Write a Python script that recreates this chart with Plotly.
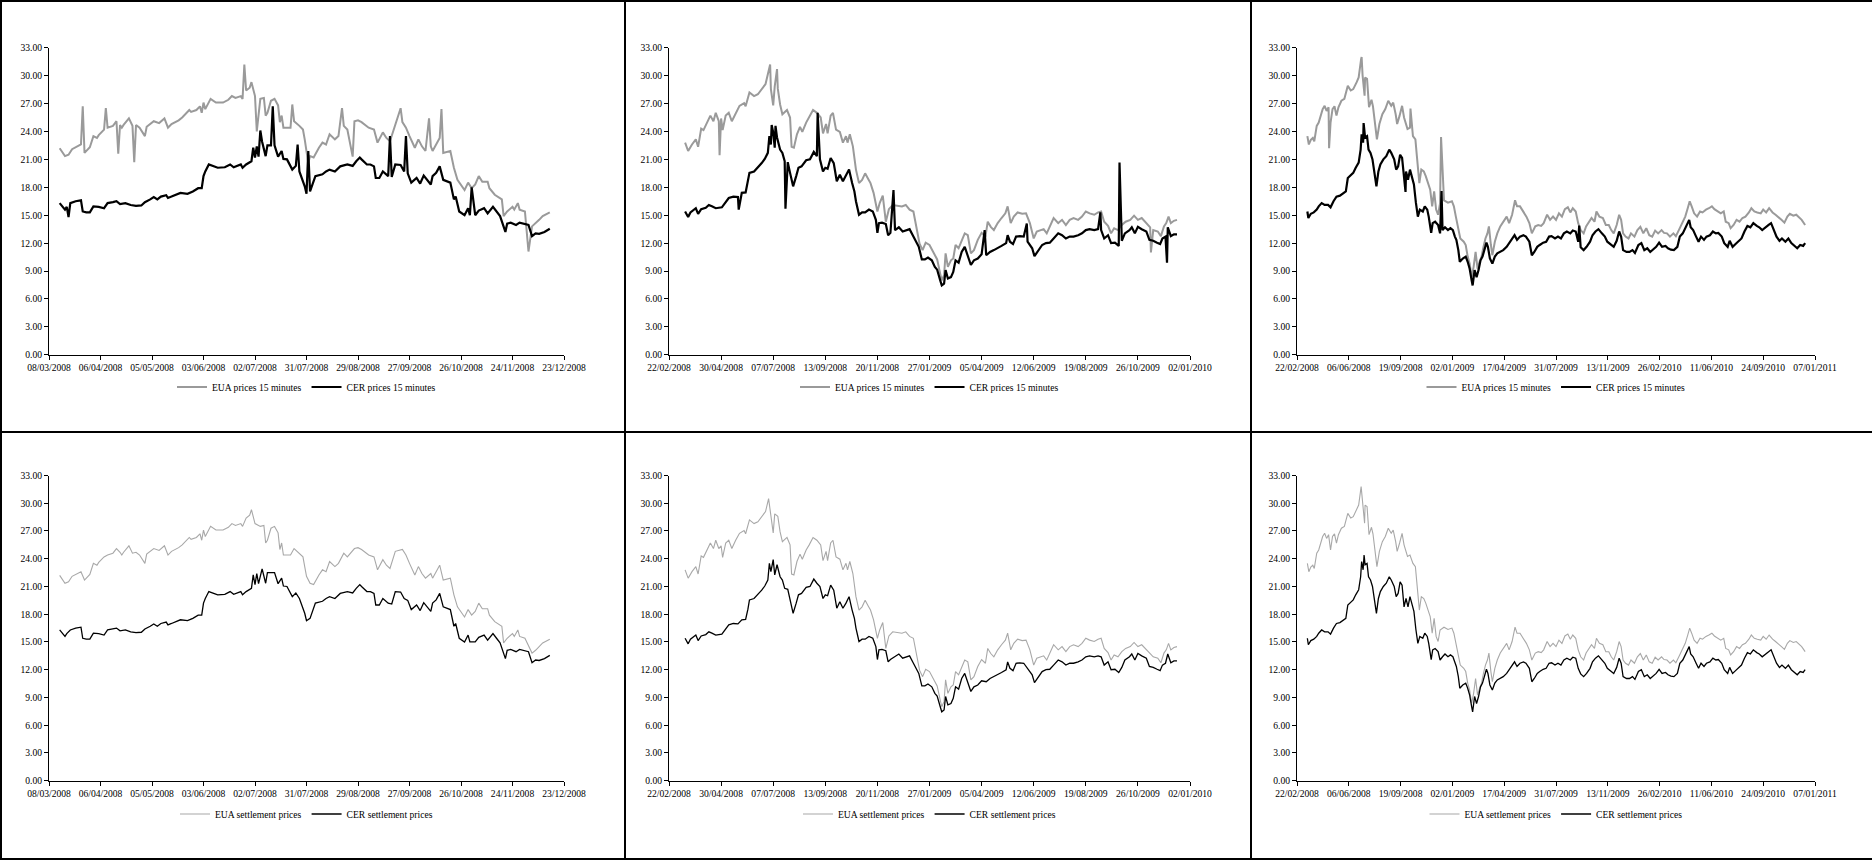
import plotly.graph_objects as go

FONT = "Liberation Serif, Times New Roman, serif"
W, H = 1872, 860

# ---------------- Dec-08 contract ----------------
dec08_eua = [
    ("2008-03-14", 22.2), ("2008-03-17", 21.35), ("2008-03-19", 21.5), ("2008-03-21", 22.1),
    ("2008-03-26", 22.6), ("2008-03-28", 21.7), ("2008-03-31", 22.3), ("2008-04-02", 23.5),
    ("2008-04-04", 23.3), ("2008-04-05", 23.6), ("2008-04-08", 24.2), ("2008-04-10", 24.4),
    ("2008-04-13", 24.6), ("2008-04-15", 25.1), ("2008-04-17", 24.7), ("2008-04-18", 24.4),
    ("2008-04-19", 24.7), ("2008-04-22", 25.4), ("2008-04-24", 24.6), ("2008-04-26", 24.7),
    ("2008-04-28", 24.4), ("2008-05-01", 23.5), ("2008-05-02", 24.5), ("2008-05-06", 25.1),
    ("2008-05-09", 24.9), ("2008-05-12", 25.4), ("2008-05-14", 24.4), ("2008-05-16", 24.8),
    ("2008-05-20", 25.2), ("2008-05-22", 25.5), ("2008-05-26", 26.3), ("2008-05-27", 26.1),
    ("2008-05-30", 26.3), ("2008-06-01", 26.7), ("2008-06-02", 26.0), ("2008-06-03", 27.1),
    ("2008-06-04", 26.4), ("2008-06-07", 27.5), ("2008-06-10", 27.1), ("2008-06-14", 27.1),
    ("2008-06-17", 27.4), ("2008-06-19", 27.8), ("2008-06-21", 27.6), ("2008-06-24", 27.8),
    ("2008-06-25", 27.5), ("2008-06-27", 28.4), ("2008-06-29", 28.7), ("2008-06-30", 29.3),
    ("2008-07-02", 27.8), ("2008-07-05", 27.5), ("2008-07-07", 27.6), ("2008-07-08", 25.7),
    ("2008-07-09", 26.0), ("2008-07-11", 27.3), ("2008-07-13", 27.5), ("2008-07-15", 26.8),
    ("2008-07-16", 25.0), ("2008-07-17", 25.7), ("2008-07-18", 24.4), ("2008-07-22", 24.4),
    ("2008-07-24", 25.1), ("2008-07-27", 24.6), ("2008-07-29", 24.2), ("2008-07-30", 23.15),
    ("2008-07-31", 22.1), ("2008-08-02", 21.35), ("2008-08-04", 21.2), ("2008-08-07", 22.25),
    ("2008-08-09", 22.8), ("2008-08-11", 22.6), ("2008-08-13", 23.7), ("2008-08-16", 23.15),
    ("2008-08-18", 23.5), ("2008-08-21", 24.6), ("2008-08-23", 24.2), ("2008-08-27", 25.1),
    ("2008-08-29", 25.2), ("2008-08-31", 25.0), ("2008-09-04", 24.4), ("2008-09-07", 24.2),
    ("2008-09-09", 22.8), ("2008-09-12", 23.9), ("2008-09-14", 23.3), ("2008-09-16", 22.95),
    ("2008-09-19", 24.8), ("2008-09-23", 25.0), ("2008-09-25", 24.4), ("2008-09-27", 23.5),
    ("2008-09-30", 22.25), ("2008-10-02", 23.15), ("2008-10-04", 22.4), ("2008-10-06", 21.9),
    ("2008-10-09", 22.4), ("2008-10-10", 21.9), ("2008-10-14", 23.3), ("2008-10-16", 21.7),
    ("2008-10-20", 21.9), ("2008-10-22", 20.1), ("2008-10-24", 18.8), ("2008-10-28", 17.7),
    ("2008-10-30", 18.5), ("2008-11-01", 17.9), ("2008-11-03", 18.3), ("2008-11-05", 19.2),
    ("2008-11-07", 18.6), ("2008-11-10", 18.6), ("2008-11-11", 17.9), ("2008-11-14", 17.2),
    ("2008-11-18", 16.7), ("2008-11-19", 14.9), ("2008-11-21", 15.4), ("2008-11-24", 15.9),
    ("2008-11-25", 15.6), ("2008-11-27", 16.3), ("2008-11-28", 15.6), ("2008-12-01", 15.4),
    ("2008-12-05", 13.8), ("2008-12-07", 14.1), ("2008-12-09", 14.5), ("2008-12-11", 14.9),
    ("2008-12-15", 15.3),
]
dec08_cer = [
    ("2008-03-14", 16.3), ("2008-03-17", 15.6), ("2008-03-18", 15.9), ("2008-03-20", 16.3),
    ("2008-03-23", 16.5), ("2008-03-26", 16.6), ("2008-03-27", 15.4), ("2008-03-29", 15.3),
    ("2008-03-31", 15.3), ("2008-04-02", 15.95), ("2008-04-05", 15.9), ("2008-04-08", 15.75),
    ("2008-04-10", 16.3), ("2008-04-13", 16.4), ("2008-04-15", 16.5), ("2008-04-17", 16.2),
    ("2008-04-20", 16.3), ("2008-04-23", 16.1), ("2008-04-26", 16.0), ("2008-04-29", 16.05),
    ("2008-05-01", 16.4), ("2008-05-04", 16.7), ("2008-05-06", 16.95), ("2008-05-08", 16.7),
    ("2008-05-10", 17.0), ("2008-05-13", 17.15), ("2008-05-14", 16.85), ("2008-05-16", 17.0),
    ("2008-05-21", 17.4), ("2008-05-25", 17.3), ("2008-05-28", 17.55), ("2008-05-31", 17.9),
    ("2008-06-02", 17.9), ("2008-06-03", 19.2), ("2008-06-04", 19.7), ("2008-06-06", 20.45),
    ("2008-06-08", 20.3), ("2008-06-11", 20.1), ("2008-06-15", 20.15), ("2008-06-18", 20.45),
    ("2008-06-20", 20.15), ("2008-06-24", 20.45), ("2008-06-25", 20.1), ("2008-06-27", 20.45),
    ("2008-06-30", 20.8), ("2008-07-01", 22.25), ("2008-07-02", 21.2), ("2008-07-03", 22.4),
    ("2008-07-04", 21.3), ("2008-07-06", 22.9), ("2008-07-08", 21.35), ("2008-07-09", 22.5),
    ("2008-07-11", 22.5), ("2008-07-13", 22.5), ("2008-07-15", 21.3), ("2008-07-17", 21.9),
    ("2008-07-18", 21.05), ("2008-07-20", 21.0), ("2008-07-23", 19.9), ("2008-07-25", 20.3),
    ("2008-07-27", 19.7), ("2008-07-30", 18.1), ("2008-07-31", 17.3), ("2008-08-02", 17.55),
    ("2008-08-05", 19.2), ("2008-08-09", 19.4), ("2008-08-11", 19.7), ("2008-08-13", 19.9),
    ("2008-08-16", 19.7), ("2008-08-19", 20.25), ("2008-08-23", 20.45), ("2008-08-26", 20.3),
    ("2008-08-28", 20.8), ("2008-08-30", 21.2), ("2008-08-31", 21.0), ("2008-09-03", 20.45),
    ("2008-09-05", 20.45), ("2008-09-07", 20.25), ("2008-09-08", 19.0), ("2008-09-10", 19.0),
    ("2008-09-12", 19.7), ("2008-09-15", 19.2), ("2008-09-17", 19.1), ("2008-09-19", 20.45),
    ("2008-09-22", 20.4), ("2008-09-24", 19.7), ("2008-09-26", 19.5), ("2008-09-28", 18.5),
    ("2008-10-01", 19.0), ("2008-10-03", 18.4), ("2008-10-05", 19.25), ("2008-10-09", 18.3),
    ("2008-10-10", 19.2), ("2008-10-12", 19.55), ("2008-10-14", 20.25), ("2008-10-16", 18.8),
    ("2008-10-20", 18.5), ("2008-10-22", 16.7), ("2008-10-23", 17.0), ("2008-10-25", 15.4),
    ("2008-10-28", 15.0), ("2008-10-30", 15.75), ("2008-10-31", 15.0), ("2008-11-03", 15.0),
    ("2008-11-05", 15.5), ("2008-11-08", 15.75), ("2008-11-10", 15.2), ("2008-11-13", 15.9),
    ("2008-11-15", 15.4), ("2008-11-17", 14.9), ("2008-11-20", 13.2), ("2008-11-21", 14.1),
    ("2008-11-23", 14.2), ("2008-11-26", 13.95), ("2008-11-28", 14.2), ("2008-11-30", 14.1),
    ("2008-12-03", 13.95), ("2008-12-05", 12.75), ("2008-12-07", 13.05), ("2008-12-09", 13.0),
    ("2008-12-12", 13.2), ("2008-12-15", 13.55),
]
dec08_eua_spikes = [
    ("2008-03-27", 26.7), ("2008-04-09", 26.5), ("2008-04-16", 21.6), ("2008-04-25", 20.7),
    ("2008-06-26", 31.2), ("2008-07-03", 24.0), ("2008-07-23", 26.9), ("2008-08-01", 20.6),
    ("2008-08-20", 26.5), ("2008-08-26", 21.3), ("2008-09-22", 26.5), ("2008-10-08", 25.4),
    ("2008-10-15", 26.4), ("2008-12-03", 11.1),
]
dec08_cer_spikes = [
    ("2008-03-19", 14.8), ("2008-07-05", 24.1), ("2008-07-12", 26.7), ("2008-07-26", 22.6),
    ("2008-08-01", 21.9), ("2008-09-16", 23.5), ("2008-09-25", 23.5), ("2008-11-01", 18.0),
]

# ---------------- Dec-09 contract ----------------
dec09_eua = [
    ("2008-03-14", 22.8), ("2008-03-18", 21.9), ("2008-03-23", 22.6), ("2008-03-28", 23.15),
    ("2008-03-31", 22.35), ("2008-04-04", 24.3), ("2008-04-07", 24.15), ("2008-04-13", 25.1),
    ("2008-04-16", 25.7), ("2008-04-20", 25.1), ("2008-04-23", 26.0), ("2008-04-27", 25.1),
    ("2008-04-30", 25.4), ("2008-05-02", 24.15), ("2008-05-06", 25.7), ("2008-05-10", 26.0),
    ("2008-05-14", 25.1), ("2008-05-19", 26.0), ("2008-05-24", 26.75), ("2008-05-30", 27.05),
    ("2008-06-01", 26.7), ("2008-06-06", 28.2), ("2008-06-12", 27.8), ("2008-06-17", 28.0),
    ("2008-06-22", 28.5), ("2008-06-27", 29.1), ("2008-07-01", 30.5), ("2008-07-04", 28.55),
    ("2008-07-07", 26.8), ("2008-07-09", 28.85), ("2008-07-13", 28.6), ("2008-07-16", 26.9),
    ("2008-07-19", 25.85), ("2008-07-25", 26.3), ("2008-07-29", 25.5), ("2008-07-31", 22.35),
    ("2008-08-03", 22.25), ("2008-08-07", 23.7), ("2008-08-11", 24.5), ("2008-08-14", 23.95),
    ("2008-08-19", 24.95), ("2008-08-23", 25.5), ("2008-08-28", 26.3), ("2008-09-02", 26.0),
    ("2008-09-07", 25.5), ("2008-09-10", 23.8), ("2008-09-14", 24.8), ("2008-09-16", 23.8),
    ("2008-09-20", 25.7), ("2008-09-23", 26.0), ("2008-09-27", 24.2), ("2008-10-02", 23.95),
    ("2008-10-06", 22.8), ("2008-10-10", 23.5), ("2008-10-12", 22.8), ("2008-10-15", 23.7),
    ("2008-10-19", 22.4), ("2008-10-23", 19.9), ("2008-10-27", 18.45), ("2008-10-31", 18.8),
    ("2008-11-04", 19.5), ("2008-11-08", 18.9), ("2008-11-11", 18.45), ("2008-11-15", 17.4),
    ("2008-11-20", 15.4), ("2008-11-23", 16.3), ("2008-11-27", 17.1), ("2008-12-01", 14.3),
    ("2008-12-05", 15.65), ("2008-12-10", 16.1), ("2008-12-17", 16.0), ("2008-12-22", 15.95),
    ("2008-12-27", 16.1), ("2009-01-01", 15.6), ("2009-01-06", 15.4), ("2009-01-09", 13.95),
    ("2009-01-14", 11.95), ("2009-01-18", 11.25), ("2009-01-22", 12.05), ("2009-01-27", 11.8),
    ("2009-02-02", 10.8), ("2009-02-06", 10.25), ("2009-02-10", 8.7), ("2009-02-12", 8.0),
    ("2009-02-15", 8.55), ("2009-02-17", 10.9), ("2009-02-20", 9.45), ("2009-02-24", 10.15),
    ("2009-02-27", 10.35), ("2009-03-02", 11.8), ("2009-03-06", 11.45), ("2009-03-10", 12.25),
    ("2009-03-14", 13.05), ("2009-03-18", 12.85), ("2009-03-22", 10.9), ("2009-03-26", 11.25),
    ("2009-03-31", 12.35), ("2009-04-05", 13.1), ("2009-04-10", 12.7), ("2009-04-13", 14.3),
    ("2009-04-17", 13.75), ("2009-04-21", 13.4), ("2009-04-26", 14.15), ("2009-05-01", 14.7),
    ("2009-05-06", 15.2), ("2009-05-09", 15.95), ("2009-05-13", 14.15), ("2009-05-17", 14.85),
    ("2009-05-22", 15.3), ("2009-05-28", 15.15), ("2009-06-02", 15.2), ("2009-06-07", 14.15),
    ("2009-06-12", 12.5), ("2009-06-16", 13.25), ("2009-06-20", 13.4), ("2009-06-25", 13.5),
    ("2009-06-29", 13.05), ("2009-07-03", 13.85), ("2009-07-08", 14.7), ("2009-07-14", 14.15),
    ("2009-07-19", 14.5), ("2009-07-24", 13.95), ("2009-07-29", 14.5), ("2009-08-03", 14.7),
    ("2009-08-09", 14.5), ("2009-08-14", 14.85), ("2009-08-19", 15.4), ("2009-08-24", 15.2),
    ("2009-08-30", 15.05), ("2009-09-04", 15.3), ("2009-09-08", 15.4), ("2009-09-12", 14.3),
    ("2009-09-17", 13.85), ("2009-09-21", 13.05), ("2009-09-25", 13.6), ("2009-09-30", 13.4),
    ("2009-10-05", 13.95), ("2009-10-10", 14.3), ("2009-10-16", 14.5), ("2009-10-21", 14.95),
    ("2009-10-26", 14.5), ("2009-10-31", 14.7), ("2009-11-06", 14.15), ("2009-11-11", 13.7),
    ("2009-11-15", 13.4), ("2009-11-21", 13.25), ("2009-11-25", 12.75), ("2009-11-29", 13.8),
    ("2009-12-02", 14.15), ("2009-12-05", 14.85), ("2009-12-08", 14.15), ("2009-12-12", 14.4),
    ("2009-12-16", 14.5),
]
dec09_cer = [
    ("2008-03-14", 15.4), ("2008-03-18", 14.8), ("2008-03-21", 15.3), ("2008-03-25", 15.6),
    ("2008-03-28", 15.75), ("2008-03-31", 15.15), ("2008-04-04", 15.65), ("2008-04-10", 15.8),
    ("2008-04-14", 16.1), ("2008-04-18", 15.95), ("2008-04-23", 15.75), ("2008-05-01", 15.85),
    ("2008-05-06", 16.35), ("2008-05-10", 16.85), ("2008-05-16", 17.0), ("2008-05-22", 16.95),
    ("2008-05-27", 17.4), ("2008-06-01", 17.45), ("2008-06-04", 18.55), ("2008-06-06", 19.55),
    ("2008-06-12", 19.7), ("2008-06-17", 20.1), ("2008-06-22", 20.6), ("2008-06-26", 21.05),
    ("2008-06-30", 21.7), ("2008-07-02", 23.5), ("2008-07-04", 22.6), ("2008-07-07", 23.9),
    ("2008-07-09", 22.25), ("2008-07-12", 23.35), ("2008-07-16", 22.05), ("2008-07-19", 21.7),
    ("2008-07-22", 20.8), ("2008-07-26", 20.7), ("2008-07-29", 19.55), ("2008-08-02", 18.1),
    ("2008-08-06", 19.2), ("2008-08-09", 20.1), ("2008-08-13", 20.25), ("2008-08-19", 20.9),
    ("2008-08-24", 21.0), ("2008-08-29", 21.8), ("2008-09-02", 21.35), ("2008-09-06", 21.0),
    ("2008-09-10", 19.7), ("2008-09-13", 20.1), ("2008-09-16", 20.0), ("2008-09-20", 21.15),
    ("2008-09-24", 20.6), ("2008-09-28", 18.65), ("2008-10-02", 19.35), ("2008-10-06", 18.65),
    ("2008-10-10", 19.2), ("2008-10-14", 19.9), ("2008-10-18", 18.45), ("2008-10-21", 17.55),
    ("2008-10-23", 16.5), ("2008-10-27", 15.05), ("2008-10-31", 15.3), ("2008-11-04", 15.3),
    ("2008-11-09", 15.6), ("2008-11-14", 15.4), ("2008-11-18", 14.5), ("2008-11-20", 13.1),
    ("2008-11-22", 14.15), ("2008-11-26", 14.2), ("2008-12-01", 14.05), ("2008-12-04", 12.85),
    ("2008-12-07", 13.1), ("2008-12-13", 13.4), ("2008-12-18", 13.7), ("2008-12-23", 13.25),
    ("2008-12-28", 13.35), ("2009-01-01", 13.5), ("2009-01-06", 12.7), ("2009-01-09", 12.25),
    ("2009-01-13", 11.6), ("2009-01-17", 10.25), ("2009-01-21", 10.25), ("2009-01-25", 10.45),
    ("2009-01-30", 10.15), ("2009-02-03", 9.45), ("2009-02-06", 9.15), ("2009-02-10", 8.0),
    ("2009-02-12", 7.45), ("2009-02-15", 7.65), ("2009-02-17", 9.1), ("2009-02-20", 8.2),
    ("2009-02-24", 8.35), ("2009-02-27", 8.9), ("2009-03-02", 10.15), ("2009-03-06", 9.9),
    ("2009-03-10", 11.05), ("2009-03-14", 11.6), ("2009-03-18", 10.55), ("2009-03-22", 9.65),
    ("2009-03-26", 10.15), ("2009-03-31", 10.35), ("2009-04-05", 10.8), ("2009-04-11", 10.7),
    ("2009-04-16", 11.05), ("2009-04-21", 11.25), ("2009-04-26", 11.45), ("2009-05-01", 11.7),
    ("2009-05-07", 12.0), ("2009-05-09", 12.85), ("2009-05-12", 12.15), ("2009-05-16", 11.9),
    ("2009-05-20", 12.7), ("2009-05-25", 12.75), ("2009-05-30", 12.7), ("2009-06-04", 12.15),
    ("2009-06-10", 11.45), ("2009-06-13", 10.6), ("2009-06-18", 11.25), ("2009-06-23", 11.8),
    ("2009-06-28", 12.0), ("2009-07-03", 12.05), ("2009-07-08", 12.5), ("2009-07-14", 13.05),
    ("2009-07-19", 12.85), ("2009-07-24", 12.5), ("2009-07-29", 12.7), ("2009-08-03", 12.7),
    ("2009-08-09", 12.85), ("2009-08-14", 13.05), ("2009-08-19", 13.4), ("2009-08-24", 13.5),
    ("2009-08-30", 13.4), ("2009-09-04", 13.5), ("2009-09-08", 13.4), ("2009-09-12", 12.5),
    ("2009-09-17", 12.85), ("2009-09-21", 12.0), ("2009-09-26", 12.05), ("2009-10-01", 11.7),
    ("2009-10-05", 12.25), ("2009-10-09", 13.05), ("2009-10-15", 13.4), ("2009-10-18", 13.7),
    ("2009-10-22", 13.05), ("2009-10-26", 13.75), ("2009-10-31", 13.5), ("2009-11-06", 13.25),
    ("2009-11-10", 12.35), ("2009-11-15", 12.25), ("2009-11-20", 12.05), ("2009-11-24", 11.9),
    ("2009-11-27", 12.5), ("2009-12-01", 12.7), ("2009-12-04", 13.7), ("2009-12-08", 12.75),
    ("2009-12-12", 12.95), ("2009-12-16", 12.95),
]
dec09_eua_spikes = [
    ("2008-04-28", 21.45), ("2008-07-03", 31.2), ("2008-07-12", 30.7), ("2009-11-12", 11.0),
]
dec09_cer_spikes = [
    ("2008-05-23", 15.6), ("2008-07-05", 24.7), ("2008-07-10", 24.6), ("2008-07-23", 15.7),
    ("2008-09-03", 26.0), ("2008-12-11", 17.7), ("2009-04-09", 13.4), ("2009-06-03", 14.1),
    ("2009-09-07", 15.3), ("2009-10-02", 20.65), ("2009-12-03", 9.9),
]

# ---------------- Dec-10 contract ----------------
dec10_eua = [
    ("2008-03-14", 23.5), ("2008-03-17", 22.6), ("2008-03-21", 23.1), ("2008-03-25", 23.3),
    ("2008-03-28", 22.95), ("2008-04-02", 24.6), ("2008-04-06", 24.95), ("2008-04-10", 25.7),
    ("2008-04-14", 26.4), ("2008-04-18", 26.75), ("2008-04-22", 26.2), ("2008-04-26", 26.6),
    ("2008-04-30", 24.95), ("2008-05-04", 26.4), ("2008-05-08", 26.7), ("2008-05-12", 25.7),
    ("2008-05-16", 26.6), ("2008-05-22", 27.3), ("2008-05-28", 27.5), ("2008-06-04", 28.9),
    ("2008-06-10", 28.4), ("2008-06-15", 28.55), ("2008-06-22", 29.3), ("2008-06-26", 29.8),
    ("2008-07-01", 31.8), ("2008-07-04", 30.0), ("2008-07-08", 27.85), ("2008-07-09", 29.8),
    ("2008-07-13", 29.65), ("2008-07-17", 26.6), ("2008-07-22", 27.4), ("2008-07-25", 26.7),
    ("2008-07-30", 24.6), ("2008-08-02", 23.15), ("2008-08-07", 24.8), ("2008-08-13", 25.85),
    ("2008-08-19", 26.4), ("2008-08-25", 27.3), ("2008-08-31", 26.75), ("2008-09-04", 27.1),
    ("2008-09-09", 25.85), ("2008-09-12", 24.8), ("2008-09-17", 25.7), ("2008-09-22", 26.75),
    ("2008-09-26", 25.5), ("2008-10-03", 24.25), ("2008-10-08", 24.4), ("2008-10-14", 23.5),
    ("2008-10-19", 23.15), ("2008-10-22", 21.35), ("2008-10-27", 18.45), ("2008-10-31", 19.9),
    ("2008-11-05", 19.7), ("2008-11-09", 19.2), ("2008-11-13", 18.65), ("2008-11-18", 17.75),
    ("2008-11-22", 15.95), ("2008-11-26", 17.55), ("2008-11-30", 15.6), ("2008-12-04", 15.05),
    ("2008-12-08", 16.3), ("2008-12-16", 16.6), ("2008-12-24", 16.35), ("2009-01-01", 16.5),
    ("2009-01-05", 15.95), ("2009-01-09", 14.85), ("2009-01-13", 13.95), ("2009-01-18", 12.5),
    ("2009-01-25", 12.15), ("2009-01-29", 11.8), ("2009-02-02", 10.55), ("2009-02-06", 9.8),
    ("2009-02-10", 8.35), ("2009-02-14", 9.45), ("2009-02-18", 11.05), ("2009-02-22", 9.25),
    ("2009-02-26", 10.0), ("2009-03-02", 10.55), ("2009-03-06", 11.6), ("2009-03-10", 12.5),
    ("2009-03-14", 13.05), ("2009-03-17", 13.8), ("2009-03-21", 11.8), ("2009-03-24", 10.7),
    ("2009-03-29", 12.15), ("2009-04-03", 13.05), ("2009-04-09", 13.8), ("2009-04-15", 14.3),
    ("2009-04-22", 14.85), ("2009-04-27", 14.15), ("2009-05-03", 15.05), ("2009-05-09", 16.6),
    ("2009-05-13", 15.95), ("2009-05-19", 15.95), ("2009-05-26", 15.4), ("2009-06-01", 14.85),
    ("2009-06-07", 14.15), ("2009-06-12", 13.05), ("2009-06-19", 13.8), ("2009-06-25", 13.95),
    ("2009-07-01", 13.85), ("2009-07-06", 14.15), ("2009-07-13", 15.05), ("2009-07-19", 14.5),
    ("2009-07-25", 14.85), ("2009-07-31", 14.5), ("2009-08-06", 15.2), ("2009-08-12", 14.85),
    ("2009-08-18", 15.65), ("2009-08-24", 15.85), ("2009-08-29", 15.3), ("2009-09-03", 15.75),
    ("2009-09-09", 15.4), ("2009-09-14", 14.15), ("2009-09-19", 13.4), ("2009-09-25", 13.05),
    ("2009-09-30", 13.8), ("2009-10-05", 14.15), ("2009-10-11", 14.7), ("2009-10-17", 14.3),
    ("2009-10-21", 15.4), ("2009-10-27", 14.85), ("2009-11-03", 14.7), ("2009-11-09", 13.95),
    ("2009-11-15", 13.95), ("2009-11-20", 13.4), ("2009-11-25", 13.05), ("2009-12-01", 13.95),
    ("2009-12-06", 15.05), ("2009-12-10", 14.5), ("2009-12-14", 13.05), ("2009-12-19", 12.7),
    ("2009-12-25", 12.5), ("2009-12-30", 13.05), ("2010-01-06", 12.7), ("2010-01-12", 13.4),
    ("2010-01-18", 13.75), ("2010-01-24", 13.05), ("2010-01-30", 13.6), ("2010-02-05", 12.85),
    ("2010-02-11", 12.7), ("2010-02-17", 13.35), ("2010-02-23", 13.05), ("2010-03-02", 13.4),
    ("2010-03-07", 13.1), ("2010-03-13", 13.05), ("2010-03-19", 12.7), ("2010-03-26", 13.05),
    ("2010-03-31", 12.75), ("2010-04-06", 13.4), ("2010-04-12", 14.15), ("2010-04-19", 14.85),
    ("2010-04-24", 15.75), ("2010-04-28", 16.5), ("2010-05-02", 15.95), ("2010-05-07", 15.2),
    ("2010-05-13", 14.85), ("2010-05-19", 15.4), ("2010-05-24", 15.3), ("2010-05-31", 15.6),
    ("2010-06-06", 15.75), ("2010-06-12", 15.95), ("2010-06-17", 15.65), ("2010-06-24", 15.4),
    ("2010-06-30", 15.2), ("2010-07-06", 15.4), ("2010-07-10", 14.3), ("2010-07-16", 14.15),
    ("2010-07-20", 13.6), ("2010-07-26", 13.95), ("2010-08-01", 14.5), ("2010-08-07", 14.3),
    ("2010-08-13", 14.7), ("2010-08-19", 14.85), ("2010-08-26", 15.3), ("2010-08-31", 15.75),
    ("2010-09-06", 15.4), ("2010-09-12", 15.3), ("2010-09-19", 15.2), ("2010-09-24", 15.6),
    ("2010-09-30", 15.3), ("2010-10-06", 15.75), ("2010-10-13", 15.3), ("2010-10-19", 15.05),
    ("2010-10-24", 14.85), ("2010-10-31", 14.5), ("2010-11-06", 14.2), ("2010-11-12", 14.85),
    ("2010-11-17", 15.15), ("2010-11-24", 14.95), ("2010-11-30", 15.05), ("2010-12-06", 14.7),
    ("2010-12-11", 14.5), ("2010-12-18", 13.95),
]
dec10_cer = [
    ("2008-03-14", 15.4), ("2008-03-16", 14.7), ("2008-03-21", 15.15), ("2008-03-27", 15.3),
    ("2008-04-02", 15.6), ("2008-04-06", 15.95), ("2008-04-12", 16.3), ("2008-04-18", 16.1),
    ("2008-04-25", 16.1), ("2008-04-30", 15.85), ("2008-05-06", 16.5), ("2008-05-12", 17.0),
    ("2008-05-19", 17.1), ("2008-05-25", 17.3), ("2008-05-31", 17.55), ("2008-06-04", 19.0),
    ("2008-06-10", 19.35), ("2008-06-15", 19.55), ("2008-06-20", 20.1), ("2008-06-26", 20.65),
    ("2008-06-30", 22.05), ("2008-07-02", 23.7), ("2008-07-05", 22.8), ("2008-07-07", 24.4),
    ("2008-07-09", 23.35), ("2008-07-13", 23.5), ("2008-07-16", 22.05), ("2008-07-20", 21.7),
    ("2008-07-24", 21.0), ("2008-07-28", 19.55), ("2008-08-01", 18.1), ("2008-08-05", 19.7),
    ("2008-08-09", 20.45), ("2008-08-15", 21.0), ("2008-08-21", 21.35), ("2008-08-27", 22.05),
    ("2008-08-31", 21.7), ("2008-09-06", 21.0), ("2008-09-10", 19.9), ("2008-09-14", 20.25),
    ("2008-09-18", 21.5), ("2008-09-22", 21.15), ("2008-09-26", 18.8), ("2008-09-30", 19.7),
    ("2008-10-04", 18.8), ("2008-10-08", 19.9), ("2008-10-12", 19.2), ("2008-10-16", 18.3),
    ("2008-10-20", 16.35), ("2008-10-24", 14.85), ("2008-10-28", 15.6), ("2008-11-03", 15.4),
    ("2008-11-07", 15.95), ("2008-11-12", 15.6), ("2008-11-15", 14.85), ("2008-11-20", 13.1),
    ("2008-11-23", 14.15), ("2008-11-28", 14.3), ("2008-12-04", 13.95), ("2008-12-08", 13.05),
    ("2008-12-13", 13.4), ("2008-12-18", 13.7), ("2008-12-24", 13.4), ("2008-12-29", 13.6),
    ("2009-01-03", 13.4), ("2009-01-07", 12.7), ("2009-01-10", 12.35), ("2009-01-14", 11.25),
    ("2009-01-17", 10.0), ("2009-01-23", 10.35), ("2009-01-29", 10.55), ("2009-02-02", 10.0),
    ("2009-02-06", 9.25), ("2009-02-10", 8.0), ("2009-02-12", 7.45), ("2009-02-16", 9.1),
    ("2009-02-20", 8.35), ("2009-02-24", 9.1), ("2009-02-28", 10.15), ("2009-03-04", 10.55),
    ("2009-03-08", 11.45), ("2009-03-12", 12.05), ("2009-03-15", 11.6), ("2009-03-19", 10.35),
    ("2009-03-24", 9.8), ("2009-03-29", 10.55), ("2009-04-03", 10.9), ("2009-04-09", 11.05),
    ("2009-04-15", 11.25), ("2009-04-22", 11.6), ("2009-04-27", 12.0), ("2009-05-03", 12.35),
    ("2009-05-08", 12.85), ("2009-05-13", 12.35), ("2009-05-19", 12.7), ("2009-05-26", 12.85),
    ("2009-05-31", 12.7), ("2009-06-07", 12.15), ("2009-06-12", 10.7), ("2009-06-17", 11.05),
    ("2009-06-23", 11.6), ("2009-06-28", 11.8), ("2009-07-05", 12.05), ("2009-07-11", 12.15),
    ("2009-07-17", 12.7), ("2009-07-22", 12.75), ("2009-07-29", 12.5), ("2009-08-04", 12.7),
    ("2009-08-10", 12.5), ("2009-08-16", 13.05), ("2009-08-22", 13.25), ("2009-08-29", 13.05),
    ("2009-09-03", 13.35), ("2009-09-09", 13.25), ("2009-09-14", 12.15), ("2009-09-19", 11.55),
    ("2009-09-25", 11.25), ("2009-10-01", 11.6), ("2009-10-08", 12.15), ("2009-10-13", 12.85),
    ("2009-10-19", 13.25), ("2009-10-25", 13.5), ("2009-11-01", 13.05), ("2009-11-07", 12.7),
    ("2009-11-12", 12.15), ("2009-11-19", 11.8), ("2009-11-25", 11.6), ("2009-12-01", 12.25),
    ("2009-12-06", 13.25), ("2009-12-10", 12.7), ("2009-12-14", 11.25), ("2009-12-21", 11.05),
    ("2009-12-27", 11.05), ("2010-01-02", 11.25), ("2010-01-07", 10.95), ("2010-01-14", 11.8),
    ("2010-01-20", 12.0), ("2010-01-26", 11.25), ("2010-02-01", 11.45), ("2010-02-07", 11.05),
    ("2010-02-13", 11.3), ("2010-02-19", 11.6), ("2010-02-25", 12.05), ("2010-03-03", 11.6),
    ("2010-03-10", 11.7), ("2010-03-15", 11.45), ("2010-03-21", 11.3), ("2010-03-27", 11.25),
    ("2010-04-03", 11.6), ("2010-04-08", 12.7), ("2010-04-14", 13.05), ("2010-04-20", 13.75),
    ("2010-04-27", 14.5), ("2010-04-30", 13.7), ("2010-05-05", 13.4), ("2010-05-11", 12.7),
    ("2010-05-16", 12.15), ("2010-05-21", 12.7), ("2010-05-27", 12.35), ("2010-06-01", 12.7),
    ("2010-06-08", 12.85), ("2010-06-14", 13.25), ("2010-06-20", 13.05), ("2010-06-25", 13.1),
    ("2010-07-02", 12.7), ("2010-07-07", 12.0), ("2010-07-14", 11.6), ("2010-07-18", 12.25),
    ("2010-07-24", 11.6), ("2010-07-30", 11.9), ("2010-08-05", 12.25), ("2010-08-11", 12.5),
    ("2010-08-17", 13.25), ("2010-08-23", 13.85), ("2010-08-29", 13.7), ("2010-09-04", 14.15),
    ("2010-09-11", 13.85), ("2010-09-16", 13.7), ("2010-09-22", 13.4), ("2010-09-28", 13.7),
    ("2010-10-05", 13.95), ("2010-10-10", 14.15), ("2010-10-16", 13.4), ("2010-10-21", 12.7),
    ("2010-10-27", 12.25), ("2010-11-01", 12.5), ("2010-11-08", 12.15), ("2010-11-14", 12.5),
    ("2010-11-20", 12.0), ("2010-11-25", 11.8), ("2010-12-02", 11.45), ("2010-12-08", 11.8),
    ("2010-12-14", 11.7), ("2010-12-18", 12.0),
]
dec10_eua_spikes = [
    ("2008-04-27", 22.2), ("2008-07-02", 32.0), ("2008-10-09", 26.45), ("2008-12-10", 23.4),
]
dec10_cer_spikes = [
    ("2008-07-06", 24.9), ("2008-09-29", 17.5), ("2008-12-11", 17.6), ("2009-09-16", 13.9),
]

# ---------------- axis labels ----------------
x_ticks_dec08 = ["08/03/2008", "06/04/2008", "05/05/2008", "03/06/2008", "02/07/2008", "31/07/2008",
                 "29/08/2008", "27/09/2008", "26/10/2008", "24/11/2008", "23/12/2008"]
x_ticks_dec09 = ["22/02/2008", "30/04/2008", "07/07/2008", "13/09/2008", "20/11/2008", "27/01/2009",
                 "05/04/2009", "12/06/2009", "19/08/2009", "26/10/2009", "02/01/2010"]
x_ticks_dec10 = ["22/02/2008", "06/06/2008", "19/09/2008", "02/01/2009", "17/04/2009", "31/07/2009",
                 "13/11/2009", "26/02/2010", "11/06/2010", "24/09/2010", "07/01/2011"]
y_ticks = ["0.00", "3.00", "6.00", "9.00", "12.00", "15.00", "18.00", "21.00", "24.00", "27.00",
           "30.00", "33.00"]

label_15 = ("EUA prices 15 minutes", "CER prices 15 minutes")
label_settle = ("EUA settlement prices", "CER settlement prices")


def iso(d):
    return f"{d[6:]}-{d[3:5]}-{d[:2]}"


def merged(base, spikes):
    pts = sorted(base + spikes, key=lambda p: p[0])
    return [p[0] for p in pts], [p[1] for p in pts]


def split(series):
    return [p[0] for p in series], [p[1] for p in series]


# panel layout in pixels: plot-area left/right per column, top/bottom per row
col_px = [(49, 564), (669, 1190), (1297, 1815)]
row_px = [(47.7, 354.8), (475.5, 780.7)]
legend_y_px = [387, 814]

contracts = [
    (dec08_eua, dec08_cer, dec08_eua_spikes, dec08_cer_spikes, x_ticks_dec08),
    (dec09_eua, dec09_cer, dec09_eua_spikes, dec09_cer_spikes, x_ticks_dec09),
    (dec10_eua, dec10_cer, dec10_eua_spikes, dec10_cer_spikes, x_ticks_dec10),
]

fig = go.Figure()
layout = {}
n = 0
for r in range(2):
    for c in range(3):
        n += 1
        sfx = "" if n == 1 else str(n)
        eua, cer, eua_sp, cer_sp, xt = contracts[c]
        leg = "legend" + sfx
        if r == 0:
            ex, ey = merged(eua, eua_sp)
            cx, cy = merged(cer, cer_sp)
            names = label_15
            eua_style = dict(color="#9a9a9a", width=2.0)
            cer_style = dict(color="#000000", width=2.2)
        else:
            ex, ey = split(eua)
            cx, cy = split(cer)
            names = label_settle
            eua_style = dict(color="#a8a8a8", width=1.1)
            cer_style = dict(color="#000000", width=1.3)
        fig.add_trace(go.Scatter(x=ex, y=ey, mode="lines", name=names[0], line=eua_style,
                                 xaxis="x" + sfx, yaxis="y" + sfx, legend=leg, hoverinfo="skip"))
        fig.add_trace(go.Scatter(x=cx, y=cy, mode="lines", name=names[1], line=cer_style,
                                 xaxis="x" + sfx, yaxis="y" + sfx, legend=leg, hoverinfo="skip"))

        x0, x1 = col_px[c]
        t, b = row_px[r]
        tickvals = [iso(d) for d in xt]
        layout["xaxis" + sfx] = dict(
            domain=[x0 / W, x1 / W], anchor="y" + sfx, type="date", automargin=False,
            range=[tickvals[0], tickvals[-1]], tickmode="array", tickvals=tickvals, ticktext=xt,
            showline=True, linecolor="black", linewidth=1, ticks="outside", ticklen=4,
            tickcolor="black", tickwidth=1, showgrid=False, zeroline=False, tickangle=0,
            tickfont=dict(family=FONT, size=9.6, color="black"))
        layout["yaxis" + sfx] = dict(
            domain=[1 - b / H, 1 - t / H], anchor="x" + sfx, range=[0, 33], automargin=False,
            tickmode="array", tickvals=[float(v) for v in y_ticks], ticktext=y_ticks,
            showline=True, linecolor="black", linewidth=1, ticks="outside", ticklen=4,
            tickcolor="black", tickwidth=1, showgrid=False, zeroline=False,
            tickfont=dict(family=FONT, size=9.6, color="black"))
        layout[leg] = dict(
            orientation="h", x=(x0 + x1) / 2 / W, xanchor="center",
            y=1 - legend_y_px[r] / H, yanchor="middle", bgcolor="rgba(0,0,0,0)",
            font=dict(family=FONT, size=9.6, color="black"), itemwidth=30,
            tracegroupgap=0)


# panel frame lines (black rules between the six charts)
def rule(x0, x1, y0, y1):
    return dict(type="rect", xref="paper", yref="paper", x0=x0 / W, x1=x1 / W,
                y0=1 - y1 / H, y1=1 - y0 / H, line=dict(width=0), fillcolor="black", layer="above")


shapes = [
    rule(0, W, 0, 2), rule(0, W, 858, 860), rule(0, W, 431, 433),
    rule(0, 2, 0, H), rule(624, 626, 0, H), rule(1250, 1252, 0, H),
]

fig.update_layout(
    template="none",
    width=W, height=H, autosize=False,
    margin=dict(l=0, r=0, t=0, b=0, pad=0, autoexpand=False),
    paper_bgcolor="white", plot_bgcolor="white", showlegend=True,
    font=dict(family=FONT, color="black"), shapes=shapes, **layout)

fig.write_html(
    "out.html",
    config={"displayModeBar": False},
    post_script="document.body.style.margin='0px';document.body.style.overflow='hidden';",
)
